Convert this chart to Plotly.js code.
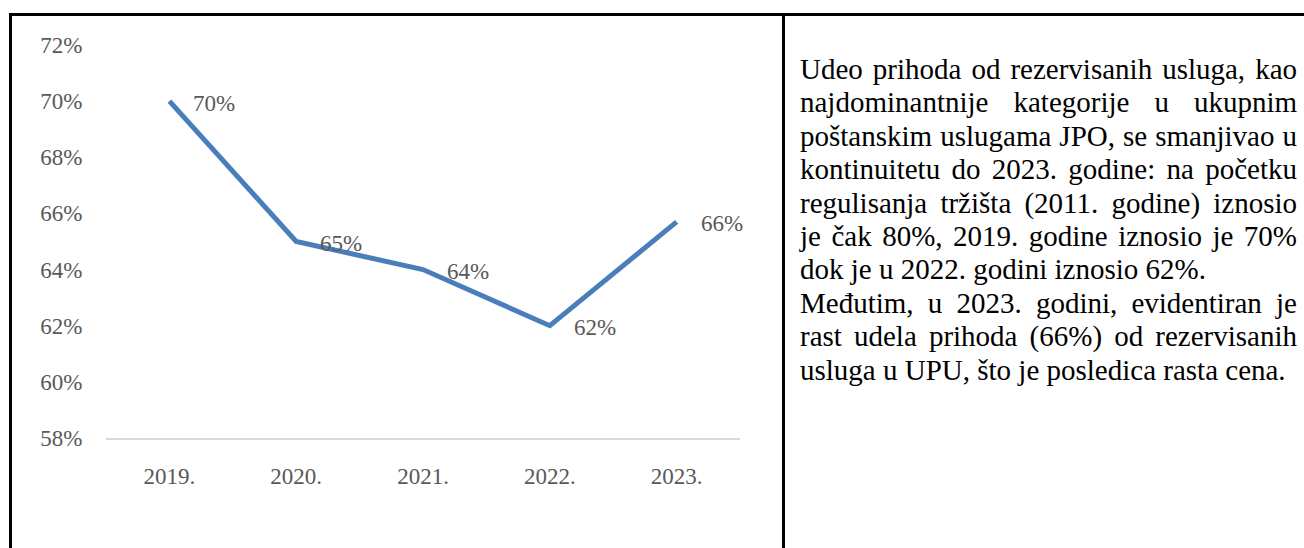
<!DOCTYPE html>
<html>
<head>
<meta charset="utf-8">
<script src="https://cdn.plot.ly/plotly-3.0.1.min.js"></script>
<style>
  html, body { margin: 0; padding: 0; background: #fff; }
  body { width: 1304px; height: 548px; position: relative; overflow: hidden; }
  #chart { position: absolute; left: 0; top: 0; width: 783px; height: 548px; }
  .rule { position: absolute; background: #000; }
  #para { position: absolute; left: 800px; top: 53px; width: 497px;
          font-family: "Liberation Serif", "Times New Roman", serif; font-size: 29px;
          line-height: 33.4px; color: #000; }
  #para div { white-space: nowrap; }
  #para .j { text-align: justify; text-align-last: justify; white-space: normal; }
</style>
</head>
<body>
<div id="chart"></div>
<div class="rule" style="left:9px; top:13px; width:1295px; height:3px;"></div>
<div class="rule" style="left:9px; top:13px; width:3px; height:535px;"></div>
<div class="rule" style="left:782px; top:13px; width:3px; height:535px;"></div>
<div id="para"></div>
<script>
// ---- data ----
const years = ['2019.', '2020.', '2021.', '2022.', '2023.'];
const shareValues = [70, 65, 64, 62, 65.7];
const shareLabels = ['70%', '65%', '64%', '62%', '66%'];
const yTickValues = [58, 60, 62, 64, 66, 68, 70, 72];
const yTickLabels = ['58%', '60%', '62%', '64%', '66%', '68%', '70%', '72%'];

// paragraph lines (justified except paragraph ends)
const paraLines = [
  'Udeo prihoda od rezervisanih usluga, kao',
  'najdominantnije kategorije u ukupnim',
  'poštanskim uslugama JPO, se smanjivao u',
  'kontinuitetu do 2023. godine: na početku',
  'regulisanja tržišta (2011. godine) iznosio',
  'je čak 80%, 2019. godine iznosio je 70%',
  'dok je u 2022. godini iznosio 62%.',
  'Međutim, u 2023. godini, evidentiran je',
  'rast udela prihoda (66%) od rezervisanih',
  'usluga u UPU, što je posledica rasta cena.'
];
const paraEnds = [6, 9];

const para = document.getElementById('para');
paraLines.forEach(function (t, i) {
  const d = document.createElement('div');
  d.textContent = t;
  if (paraEnds.indexOf(i) === -1) d.className = 'j';
  para.appendChild(d);
});

const FONT = 'Liberation Serif, Times New Roman, serif';
const GREY = '#595959';

const trace = {
  type: 'scatter',
  mode: 'lines',
  x: years,
  y: shareValues,
  line: { color: '#4a7ebb', width: 5 },
  hoverinfo: 'skip'
};

const annotations = shareValues.map(function (v, i) {
  return {
    x: i, y: v, xref: 'x', yref: 'y',
    text: shareLabels[i], showarrow: false,
    xanchor: 'left', yanchor: 'middle', xshift: 22, yshift: -2,
    font: { family: FONT, size: 23, color: GREY }
  };
});

const layout = {
  width: 783, height: 548,
  margin: { l: 106, r: 43, t: 45, b: 110 },
  paper_bgcolor: 'rgba(0,0,0,0)',
  plot_bgcolor: 'rgba(0,0,0,0)',
  showlegend: false,
  font: { family: FONT, size: 23, color: GREY },
  xaxis: {
    type: 'category',
    range: [-0.5, 4.5],
    showgrid: false, zeroline: false,
    showline: true, linecolor: '#d9d9d9', linewidth: 1.5,
    ticks: 'outside', ticklen: 17, tickcolor: 'rgba(0,0,0,0)',
    tickfont: { family: FONT, size: 23, color: GREY },
    fixedrange: true
  },
  yaxis: {
    range: [58, 72],
    tickvals: yTickValues,
    ticktext: yTickLabels,
    showgrid: false, zeroline: false, showline: false,
    ticks: 'outside', ticklen: 18, tickcolor: 'rgba(0,0,0,0)',
    tickfont: { family: FONT, size: 23, color: GREY },
    fixedrange: true
  },
  annotations: annotations
};

Plotly.newPlot('chart', [trace], layout, { displayModeBar: false, staticPlot: true });
</script>
</body>
</html>
